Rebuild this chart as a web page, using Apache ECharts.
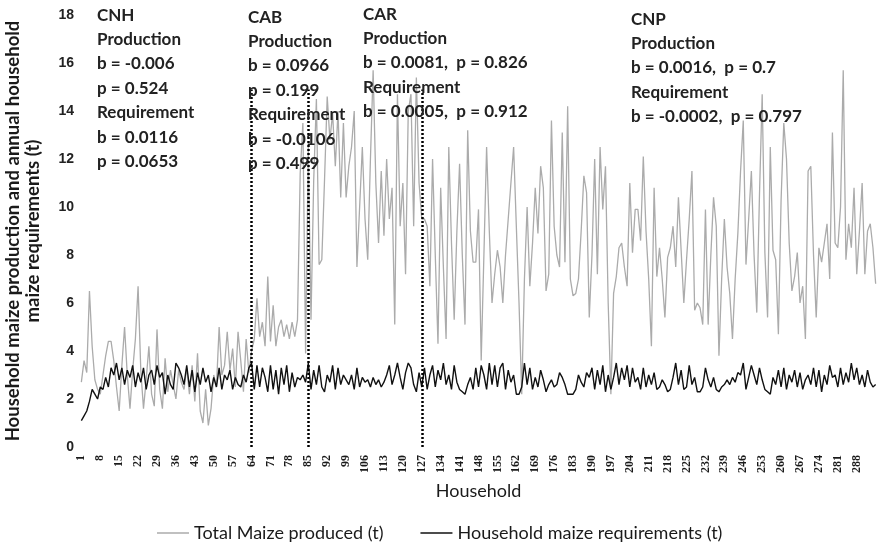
<!DOCTYPE html>
<html>
<head>
<meta charset="utf-8">
<title>Household maize production and requirements</title>
<script src="https://cdn.jsdelivr.net/npm/echarts@6/dist/echarts.min.js"></script>
<style>
  html, body { margin: 0; padding: 0; background: #ffffff; }
  #chart { width: 877px; height: 550px; }
</style>
</head>
<body>
<div id="chart"></div>
<script>
// Total maize produced (t), one value per household, grouped by district
var cnhProduced = [
  2.7, 3.6, 3.1, 6.5, 4.2, 2.8, 2.4, 2.2, 3.0, 3.8,
  4.4, 4.4, 3.6, 2.5, 1.5, 3.4, 5.0, 3.0, 1.6, 3.2,
  4.5, 6.7, 3.2, 1.6, 2.8, 4.2, 2.2, 1.7, 4.9, 2.4,
  1.6, 3.7, 2.3, 3.2, 2.6, 2.0, 3.2, 2.7, 2.4, 3.3,
  2.2, 3.4, 1.9, 3.9, 1.5, 1.0, 2.4, 0.9, 1.6, 3.0,
  2.5, 5.0, 3.0, 3.4, 4.8, 3.2, 4.1, 2.5, 4.8, 3.6,
  2.3, 4.5, 3.1
];
var cabProduced = [
  4.0, 4.5, 6.2, 4.6, 5.2, 4.2, 7.1, 4.4, 5.9, 4.2,
  5.0, 5.3, 4.6, 5.1, 4.5, 5.2, 4.6, 5.3, 11.4, 13.5,
  3.9
];
var carProduced = [
  12.5, 5.3, 11.1, 14.5, 7.6, 7.8, 11.1, 14.6, 12.8, 13.9,
  11.7, 14.0, 10.4, 13.5, 10.4, 11.7, 12.5, 14.0, 7.5, 10.0,
  12.5, 9.5, 7.8, 12.0, 15.7, 11.0, 8.5, 11.5, 8.8, 12.0,
  9.5, 10.8, 5.1, 14.7, 9.2, 11.0, 7.2, 14.0, 14.7, 9.2,
  15.4, 11.0
];
var cnpProduced = [
  9.5, 9.5, 9.2, 6.7, 12.0, 8.0, 4.3, 10.8, 7.5, 4.5,
  12.5, 8.5, 5.3, 9.0, 11.8, 8.0, 5.1, 13.2, 9.0, 7.7,
  7.7, 9.9, 3.6, 8.0, 12.5, 9.0, 6.0, 7.2, 8.2, 7.5,
  6.0, 8.0, 9.5, 11.0, 12.5, 9.2, 6.0, 2.2, 7.0, 10.0,
  6.7, 8.5, 10.8, 8.9, 11.7, 10.8, 6.5, 7.2, 13.6, 9.2,
  8.0, 7.5, 13.1, 7.7, 14.2, 7.0, 6.3, 6.4, 7.0, 9.0,
  11.3, 10.6, 5.4, 8.0, 12.0, 7.2, 12.5, 9.9, 11.7, 6.0,
  2.2, 6.4, 7.1, 8.3, 8.5, 7.5, 6.7, 11.0, 8.1, 9.9,
  9.9, 8.6, 12.1, 9.0, 7.0, 4.2, 10.8, 7.1, 8.3, 7.0,
  5.4, 7.9, 8.3, 9.2, 7.5, 10.4, 8.2, 6.0, 7.8, 9.5,
  11.5, 5.7, 6.0, 5.8, 5.1, 9.9, 5.1, 8.0, 10.4, 9.2,
  3.8, 7.0, 9.5, 7.5, 6.4, 4.5, 7.0, 8.9, 11.5, 13.6,
  7.6, 9.5, 11.5, 8.0, 5.6, 10.5, 14.7, 8.1, 5.4, 12.5,
  8.2, 7.8, 4.7, 10.3, 13.5, 12.0, 8.5, 6.5, 7.1, 8.1,
  6.0, 6.7, 4.5, 11.5, 11.7, 8.0, 5.4, 8.3, 7.7, 8.5,
  9.3, 7.0, 13.1, 8.5, 8.3, 10.0, 15.7, 7.8, 9.3, 8.3,
  10.8, 7.2, 9.0, 11.0, 7.2, 9.0, 9.3, 8.3, 6.8
];

// Household maize requirements (t)
var cnhRequired = [
  1.1, 1.3, 1.5, 1.9, 2.4, 2.2, 2.0, 2.5, 2.4, 2.9,
  2.5, 3.3, 3.0, 3.5, 2.8, 3.3, 2.6, 3.2, 2.9, 3.4,
  2.5, 3.1, 2.7, 3.3, 2.4, 3.0, 3.2, 2.6, 3.4, 2.9,
  3.1, 2.2, 3.0, 2.6, 2.4, 3.5, 3.3, 3.0, 2.6, 3.4,
  2.5, 3.2, 2.3, 3.1, 2.6, 3.3, 2.7, 3.0, 2.3, 2.9,
  2.5, 3.3, 2.4, 3.0, 2.8, 3.2, 2.4, 2.9, 2.6, 2.5,
  3.0, 2.7, 3.3
];
var cabRequired = [
  3.5, 2.4, 3.4, 2.5, 3.3, 2.9, 2.3, 3.4, 2.4, 3.2,
  2.2, 3.3, 2.6, 3.4, 2.3, 3.1, 2.5, 2.9, 2.8, 3.0,
  2.7
];
var carRequired = [
  3.5, 2.4, 3.2, 2.6, 3.4, 2.5, 2.3, 3.0, 2.7, 3.4,
  2.4, 3.3, 2.6, 3.0, 2.8, 2.6, 3.0, 2.4, 3.3, 2.5,
  2.9, 2.7, 2.8, 2.5, 2.9, 2.6, 2.8, 2.5, 2.7, 3.0,
  3.4, 2.6, 3.0, 3.5, 2.9, 2.4, 3.1, 3.5, 3.3, 2.6,
  2.3, 3.1
];
var cnpRequired = [
  2.5, 3.3, 2.4, 3.0, 3.4, 2.5, 3.2, 2.8, 3.5, 2.6,
  3.0, 2.4, 3.4, 2.7, 2.4, 2.3, 2.2, 2.6, 2.9, 2.4,
  3.3, 2.5, 3.4, 3.0, 2.4, 3.5, 2.6, 3.4, 2.5, 3.3,
  3.5, 2.4, 3.2, 2.7, 3.0, 2.2, 2.2, 2.5, 3.5, 2.6,
  3.3, 2.4, 2.9, 2.5, 3.2, 2.8, 2.3, 2.6, 2.8, 2.5,
  2.6, 3.1, 2.9, 2.6, 2.2, 2.2, 2.2, 2.4, 3.0, 2.7,
  2.5, 3.1, 2.9, 3.3, 2.4, 3.2, 2.6, 3.4, 2.3, 3.0,
  2.4, 2.9, 3.5, 2.6, 3.3, 2.8, 3.4, 2.5, 3.3, 2.7,
  2.9, 2.4, 3.3, 2.5, 3.0, 2.6, 3.1, 2.4, 2.5, 2.8,
  2.6, 2.3, 2.4, 2.9, 3.5, 2.6, 3.2, 2.4, 2.5, 3.4,
  2.6, 2.9, 2.3, 2.3, 2.5, 3.3, 2.8, 2.5, 2.9, 2.4,
  2.3, 2.5, 2.6, 2.8, 2.6, 2.9, 2.7, 3.1, 3.0, 3.5,
  2.4, 2.9, 3.4, 3.0, 2.6, 3.3, 2.8, 2.4, 2.3, 2.2,
  2.9, 2.6, 3.2, 2.5, 3.3, 2.4, 3.0, 2.7, 3.2, 2.5,
  3.1, 2.4, 2.8, 3.0, 2.6, 3.3, 2.5, 3.2, 2.3, 3.0,
  2.6, 3.4, 2.9, 3.0, 2.5, 3.3, 2.6, 3.1, 2.7, 3.5,
  2.8, 3.3, 2.6, 3.0, 2.5, 3.2, 2.7, 2.5, 2.6
];

// First household of each district after the first (dotted separators)
var districtStarts = ['64', '85', '127'];
var separatorTop = 14.9;

// Household tick labels: every 7th household, up to 288
var labelStep = 7;
var lastLabel = 288;

// District regression notes
var districtNotes = [
  { text: 'CNH\nProduction\nb = -0.006\np = 0.524\nRequirement\nb = 0.0116\np = 0.0653', x: 97, y: 3 },
  { text: 'CAB\nProduction\nb = 0.0966\np = 0.199\nRequirement\nb = -0.0106\np = 0.499', x: 248, y: 5 },
  { text: 'CAR\nProduction\nb = 0.0081,  p = 0.826\nRequirement\nb = 0.0005,  p = 0.912', x: 363, y: 2 },
  { text: 'CNP\nProduction\nb = 0.0016,  p = 0.7\nRequirement\nb = -0.0002,  p = 0.797', x: 631, y: 7 }
];

var produced = cnhProduced.concat(cabProduced, carProduced, cnpProduced);
var required = cnhRequired.concat(cabRequired, carRequired, cnpRequired);
var households = produced.map(function (_, i) { return String(i + 1); });

var annoFont = 'Lato, "Liberation Sans", Arial, sans-serif';

var chart = echarts.init(document.getElementById('chart'), null, { renderer: 'canvas' });
chart.setOption({
  backgroundColor: '#ffffff',
  animation: false,
  grid: { left: 80, right: 0, top: 15, bottom: 103, containLabel: false, outerBoundsMode: 'none' },
  xAxis: {
    type: 'category',
    data: households,
    boundaryGap: true,
    name: 'Household',
    nameLocation: 'middle',
    nameGap: 35,
    nameTextStyle: { fontFamily: annoFont, fontSize: 18, color: '#1a1a1a' },
    axisLine: { show: false },
    axisTick: { show: false },
    axisLabel: {
      interval: function (index, value) {
        return index % labelStep === 0 && Number(value) <= lastLabel;
      },
      rotate: 90,
      margin: 8,
      fontFamily: '"Liberation Serif", "DejaVu Serif", serif',
      fontWeight: 'bold',
      fontSize: 12,
      color: '#1a1a1a'
    },
    splitLine: { show: false }
  },
  yAxis: {
    type: 'value',
    min: 0,
    max: 18,
    interval: 2,
    name: 'Household maize production and annual household\nmaize requirements (t)',
    nameLocation: 'middle',
    nameRotate: 90,
    nameGap: 37,
    nameTextStyle: { fontFamily: annoFont, fontWeight: 'bold', fontSize: 18.5, color: '#1a1a1a', lineHeight: 20 },
    axisLine: { show: false },
    axisTick: { show: false },
    axisLabel: {
      margin: 6,
      fontFamily: '"Liberation Sans Narrow", "Liberation Sans", sans-serif',
      fontWeight: 'bold',
      fontSize: 14,
      color: '#222'
    },
    splitLine: { show: false }
  },
  legend: {
    left: 152,
    top: 519,
    icon: 'rect',
    itemWidth: 32,
    itemHeight: 1.5,
    itemGap: 37,
    textStyle: { fontFamily: annoFont, fontSize: 18, color: '#1a1a1a' },
    data: ['Total Maize produced (t)', 'Household maize requirements (t)']
  },
  series: [
    {
      name: 'Total Maize produced (t)',
      type: 'line',
      data: produced,
      symbol: 'none',
      lineStyle: { color: '#ababab', width: 1.3 },
      itemStyle: { color: '#ababab' },
      z: 2
    },
    {
      name: 'Household maize requirements (t)',
      type: 'line',
      data: required,
      symbol: 'none',
      lineStyle: { color: '#111111', width: 1.4 },
      itemStyle: { color: '#111111' },
      z: 3,
      markLine: {
        silent: true,
        symbol: ['none', 'none'],
        label: { show: false },
        lineStyle: { color: '#000', type: [2, 2], width: 2.5 },
        data: districtStarts.map(function (h) {
          return [{ coord: [h, 0] }, { coord: [h, separatorTop] }];
        })
      }
    }
  ],
  graphic: districtNotes.map(function (n) {
    return {
      type: 'text',
      left: n.x,
      top: n.y,
      z: 10,
      style: {
        text: n.text,
        fill: '#222',
        font: 'bold 17px ' + annoFont,
        lineHeight: 24.4
      }
    };
  })
});
</script>
</body>
</html>
